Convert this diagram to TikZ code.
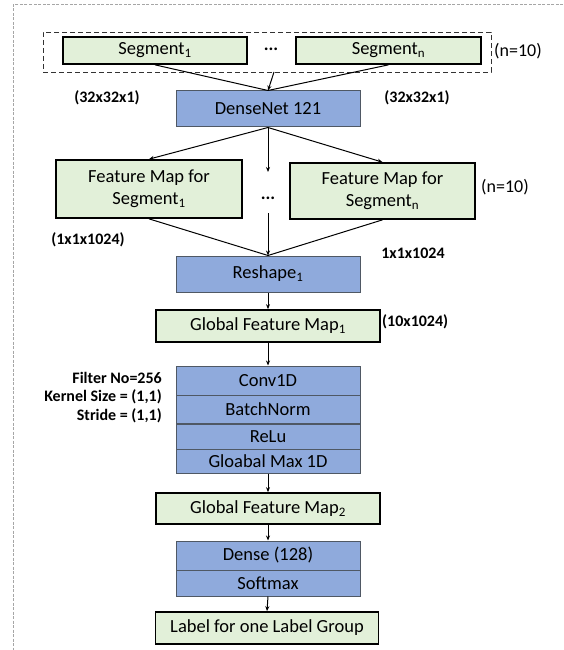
\documentclass[tikz,border=0pt]{standalone}
\usepackage{fontspec}
\setmainfont{Carlito}
\usetikzlibrary{arrows.meta}
\definecolor{bluefill}{HTML}{8FAADC}
\definecolor{greenfill}{HTML}{E2F0D9}
\definecolor{blueline}{HTML}{4F5864}
\tikzset{
  greenbox/.style={draw=black, line width=1.7pt, fill=greenfill, inner sep=0pt, align=center,
    font=\fontsize{18.5}{22}\selectfont},
  bluebox/.style={draw=blueline, line width=1pt, fill=bluefill, inner sep=0pt, align=center,
    font=\fontsize{18.5}{21}\selectfont},
  dimlabel/.style={inner sep=0pt, font=\fontsize{16}{18}\bfseries\selectfont},
  plainlabel/.style={inner sep=0pt, font=\fontsize{18}{21}\selectfont},
  conn/.style={draw=black, line width=1pt, -{Stealth[length=5pt,width=4pt]}},
  connplain/.style={draw=black, line width=1pt},
}
\begin{document}
\begin{tikzpicture}[x=1pt,y=-1pt]
\useasboundingbox (0,0) rectangle (563,650);
% outer frame (top and left only)
\draw[gray!70, line width=1pt, dash pattern=on 3pt off 1.5pt] (563,5) -- (13,5) -- (13,650);
% input group
\node[draw=black!80, line width=0.8pt, dash pattern=on 5pt off 3pt, minimum width=448pt, minimum height=40pt, inner sep=0pt] (grp) at (267,52) {};
\node[greenbox, minimum width=184pt, minimum height=27pt] (seg1) at (155,50.5) {Segment\textsubscript{1}};
\node[greenbox, minimum width=185pt, minimum height=27pt] (segn) at (388.5,50.5) {Segment\textsubscript{n}};
\node[plainlabel, font=\fontsize{18}{21}\bfseries\selectfont] (dots1) at (271,49) {...};
\node[plainlabel, anchor=west] (n10a) at (494,51) {(n=10)};
\node[dimlabel] (d32a) at (107,98) {(32x32x1)};
\node[dimlabel] (d32b) at (417,98) {(32x32x1)};
\coordinate (gstart) at (274,72);
% densenet
\node[bluebox, minimum width=184pt, minimum height=36pt] (dense) at (268,109) {DenseNet 121};
\draw[connplain] (seg1.south) -- (dense.north);
\draw[connplain] (segn.south) -- (dense.north);
\draw[conn] (gstart) -- (dense.north);
% feature maps
\node[greenbox, minimum width=186pt, minimum height=58pt] (fm1) at (149,189) {Feature Map for\\Segment\textsubscript{1}};
\node[greenbox, minimum width=185pt, minimum height=56pt] (fmn) at (382.5,191) {Feature Map for\\Segment\textsubscript{n}};
\node[plainlabel, anchor=west] (n10b) at (481,187) {(n=10)};
\node[plainlabel, font=\fontsize{18}{21}\bfseries\selectfont] (dots2) at (268,198) {...};
\coordinate (mtop) at (268,172);
\coordinate (mbot) at (268,213);
\draw[conn] (dense.south) -- (fm1.north);
\draw[conn] (dense.south) -- (fmn.north);
\draw[conn] (dense.south) -- (mtop);
\node[dimlabel] (d1a) at (88,240) {(1x1x1024)};
\node[dimlabel] (d1b) at (413,253) {1x1x1024};
% reshape
\node[bluebox, minimum width=184pt, minimum height=36pt] (reshape) at (268,274) {Reshape\textsubscript{1}};
\draw[connplain] (fm1.south) -- (reshape.north);
\draw[connplain] (fmn.south) -- (reshape.north);
\draw[conn] (mbot) -- (reshape.north);
% global feature map 1
\node[greenbox, minimum width=224pt, minimum height=32pt] (gfm1) at (268,326) {Global Feature Map\textsubscript{1}};
\node[dimlabel, anchor=west] (d10) at (382,322) {(10x1024)};
\draw[conn] (reshape.south) -- (gfm1.north);
% conv stack
\node[bluebox, minimum width=184pt, minimum height=29pt] (conv) at (268,380.5) {Conv1D};
\node[bluebox, minimum width=184pt, minimum height=28pt] (bn) at (268,409) {BatchNorm};
\node[bluebox, minimum width=184pt, minimum height=25pt] (relu) at (268,436.5) {ReLu};
\node[bluebox, minimum width=184pt, minimum height=24pt] (gmax) at (268,461) {Gloabal Max 1D};
\draw[conn] (gfm1.south) -- (conv.north);
\node[dimlabel, anchor=east] (p1) at (162,378) {Filter No=256};
\node[dimlabel, anchor=east] (p2) at (162,397) {Kernel Size = (1,1)};
\node[dimlabel, anchor=east] (p3) at (162,416) {Stride = (1,1)};
% global feature map 2
\node[greenbox, minimum width=224pt, minimum height=31pt] (gfm2) at (268,508.5) {Global Feature Map\textsubscript{2}};
\draw[conn] (gmax.south) -- (gfm2.north);
% dense / softmax
\node[bluebox, minimum width=184pt, minimum height=29pt] (dl) at (268,555.5) {Dense (128)};
\node[bluebox, minimum width=184pt, minimum height=26pt] (sm) at (268,583) {Softmax};
\draw[conn] (gfm2.south) -- (dl.north);
% output
\node[greenbox, minimum width=223pt, minimum height=32pt] (out) at (267,628) {Label for one Label Group};
\draw[conn] (sm.south) -- (out.north);
\end{tikzpicture}
\end{document}
